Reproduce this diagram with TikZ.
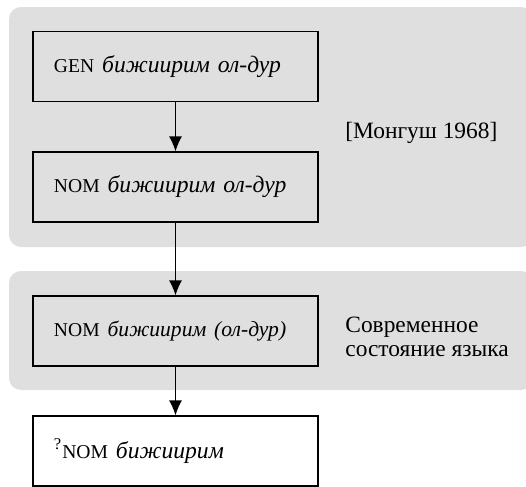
\documentclass[tikz,border=0pt]{standalone}
\usepackage{fontspec}
\setmainfont{Liberation Serif}
\usetikzlibrary{arrows.meta}

\definecolor{panelgray}{RGB}{223,223,223}
\newcommand{\glabbr}[1]{{\fontsize{9.8}{9.8}\selectfont #1}}

\tikzset{
  formbox/.style={draw, line width=0.6pt, minimum height=35pt, text width=121.5pt,
    inner xsep=10.5pt, align=left, font=\fontsize{11.8}{14}\selectfont},
  panel/.style={fill=panelgray, rounded corners=6pt},
  sidenote/.style={font=\fontsize{11.7}{12.2}\selectfont, inner sep=0pt},
  shiftarrow/.style={-{Latex[length=7.5pt,width=6.5pt]}, line width=0.6pt},
}

\begin{document}
\begin{tikzpicture}[x=0.5pt,y=-0.5pt]
    \useasboundingbox (0,0) rectangle (526,487);

    \fill[panel] (9,7) rectangle (533,247);
    \fill[panel] (9,271) rectangle (533,390);

    \node[formbox] (gen) at (175.5,66.5) {\glabbr{GEN} \textit{бижиирим ол-дур}};
    \node[formbox] (nomold) at (175.5,187) {\glabbr{NOM} \textit{бижиирим ол-дур}};
    \node[formbox] (nomnow) at (175.5,331) {\glabbr{NOM} {\fontsize{10.8}{14}\selectfont\textit{бижиирим (ол-дур)}}};
    \node[formbox, fill=white] (nomq) at (175.5,451) {\textsuperscript{?}\glabbr{NOM} \textit{бижиирим}};

    \node[sidenote, anchor=base west] (source) at (345,139) {[Монгуш 1968]};
    \node[sidenote, anchor=west, align=left] (modern) at (345,337) {Современное\\состояние языка};

    \draw[shiftarrow] (gen) -- (nomold);
    \draw[shiftarrow] (nomold) -- (nomnow);
    \draw[shiftarrow] (nomnow) -- (nomq);
\end{tikzpicture}
\end{document}
